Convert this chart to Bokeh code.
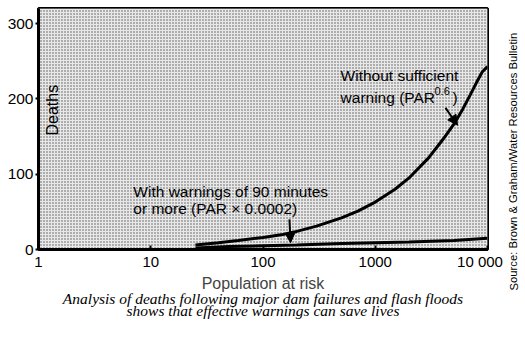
from bokeh.plotting import figure
from bokeh.models import Range1d, Label, Arrow, NormalHead, BoxAnnotation, FixedTicker, Title
from bokeh.embed import file_html
from bokeh.resources import INLINE

# Data
par_without = [25, 40, 60, 100, 150, 200, 300, 500, 700, 1000, 1500, 2000, 3000, 4000, 5000, 6000, 7000, 8000, 9000, 10000]
deaths_without = [6, 9, 12, 16, 20, 24, 31, 42, 51, 63, 80, 95, 122, 146, 166, 186, 205, 222, 236, 243]
par_with = [25, 50, 100, 200, 500, 1000, 2000, 5000, 10000]
deaths_with = [2, 4, 5, 6, 8, 9, 10, 12, 15]

x_ticks = [1, 10, 100, 1000, 10000]
x_tick_labels = ["1", "10", "100", "1000", "10 000\u2002\u2002"]
y_ticks = [0, 100, 200, 300]

caption_lines = ["Analysis of deaths following major dam failures and flash floods",
                 "shows that effective warnings can save lives"]
source_text = "Source: Brown & Graham/Water Resources Bulletin"

SANS = "Liberation Sans"
SERIF = "Liberation Serif"

p = figure(width=525, height=337, x_axis_type="log",
           x_range=Range1d(1, 10000), y_range=Range1d(0, 320),
           output_backend="svg", toolbar_location=None,
           min_border_left=38, min_border_right=38,
           min_border_top=8, min_border_bottom=88)
p.background_fill_color = "white"
p.border_fill_color = "white"
p.grid.visible = False
p.outline_line_color = "black"
p.outline_line_width = 3

# stippled background
bg = BoxAnnotation(fill_color="#e8e8e8", fill_alpha=1.0,
                   hatch_pattern="dot", hatch_color="#555555",
                   hatch_scale=3, hatch_weight=1, level="underlay")
p.add_layout(bg)

# axes
p.xaxis.ticker = FixedTicker(ticks=x_ticks)
p.xaxis.major_label_overrides = {t: l for t, l in zip(x_ticks, x_tick_labels)}
p.xaxis.minor_tick_line_color = None
p.xaxis.major_tick_in = 4
p.xaxis.major_tick_out = 0
p.xaxis.major_tick_line_width = 2
p.xaxis.axis_line_width = 3
p.xaxis.major_label_text_font = SANS
p.xaxis.major_label_text_font_size = "15px"
p.xaxis.major_label_text_color = "black"
p.xaxis.major_label_standoff = 3
p.xaxis.axis_label = "Population at risk"
p.xaxis.axis_label_text_font = SANS
p.xaxis.axis_label_text_font_size = "16px"
p.xaxis.axis_label_text_font_style = "normal"
p.xaxis.axis_label_standoff = 2

p.yaxis.ticker = FixedTicker(ticks=y_ticks)
p.yaxis.minor_tick_line_color = None
p.yaxis.major_tick_in = 0
p.yaxis.major_tick_out = 3
p.yaxis.major_tick_line_width = 2
p.yaxis.axis_line_width = 3
p.yaxis.major_label_text_font = SANS
p.yaxis.major_label_text_font_size = "15.5px"
p.yaxis.major_label_text_color = "black"
p.yaxis.major_label_standoff = 2

# curves
p.line(par_without, deaths_without, line_color="black", line_width=3)
p.line(par_with, deaths_with, line_color="black", line_width=3)

# in-plot texts
def lab(x, y, text, size="15.5px", **kw):
    l = Label(x=x, y=y, text=text, text_font=SANS, text_font_size=size,
              text_color="black", text_baseline="middle", **kw)
    p.add_layout(l)
    return l

lab(1.33, 185, "Deaths", size="16px", angle=1.5708, text_align="center")
lab(491, 231, "Without sufficient")
lab(491, 202, "warning (PAR")
lab(3370, 211, "0.6", size="11px")
lab(4880, 202, ")")
lab(7.0, 77, "With warnings of 90 minutes")
lab(7.0, 54, "or more (PAR \u00d7 0.0002)")

p.add_layout(Arrow(x_start=4225, y_start=188, x_end=5410, y_end=165,
                   line_width=2, line_color="black",
                   end=NormalHead(size=10, fill_color="black", line_color="black")))
p.add_layout(Arrow(x_start=172, y_start=40, x_end=176, y_end=9,
                   line_width=2, line_color="black",
                   end=NormalHead(size=9, fill_color="black", line_color="black")))

# caption (titles below the axis)
for text, so in zip(caption_lines, [-13, -1]):
    p.add_layout(Title(text=text, text_font=SERIF, text_font_style="italic",
                       text_font_size="15.5px", align="center", standoff=so,
                       offset=0, text_color="black"), "below")

# source (right-hand side panel, screen units)
src = Label(x=26, y=-41, x_units="screen", y_units="screen",
            text=source_text,
            text_font=SANS, text_font_size="11.25px", angle=1.5708,
            text_align="left", text_baseline="middle", text_color="black")
p.add_layout(src, "right")

open("out.html", "w").write(file_html(p, INLINE))
